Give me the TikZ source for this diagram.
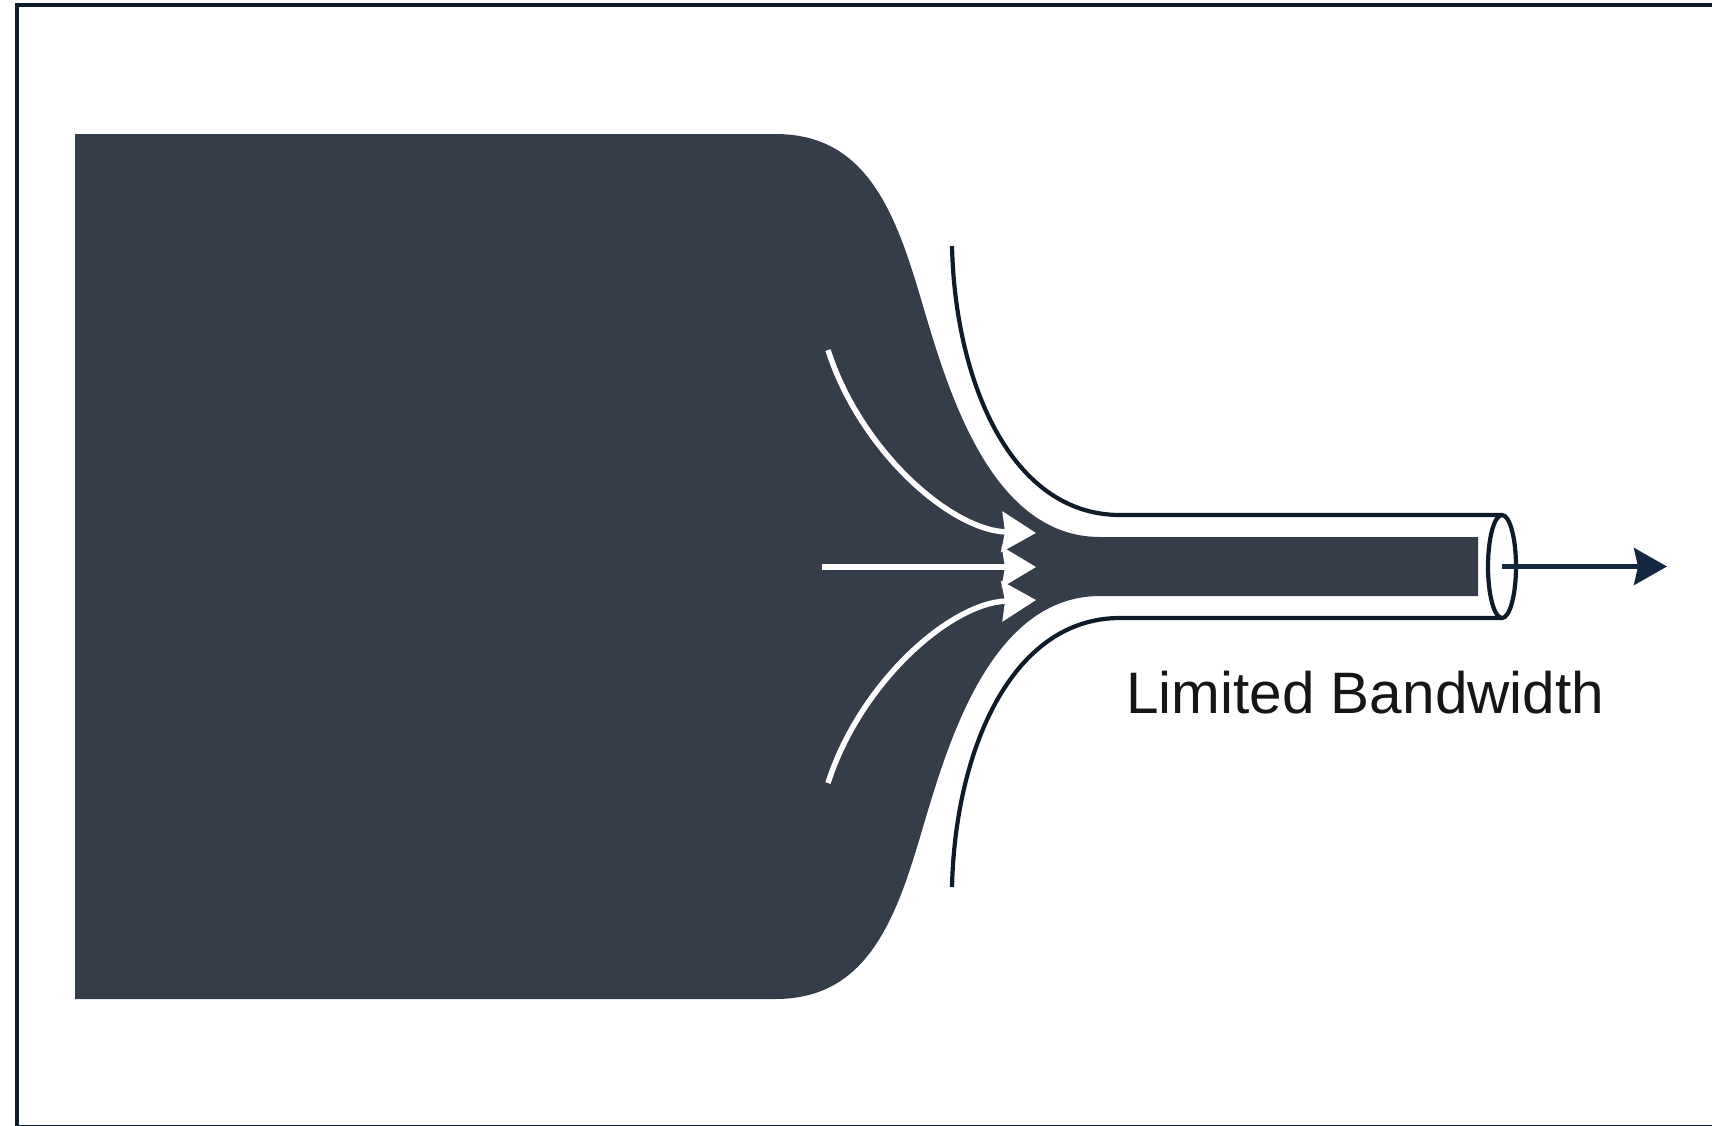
\documentclass[tikz,border=0pt]{standalone}
\usepackage{fontspec}
\newfontfamily\labelfont{Liberation Sans}
\usetikzlibrary{arrows.meta,shapes.geometric}
\definecolor{darkfill}{RGB}{52,61,73}
\definecolor{outline}{RGB}{16,27,42}
\definecolor{arrowblue}{RGB}{20,40,65}
\definecolor{textcol}{RGB}{22,22,22}
\tikzset{
  frameline/.style={draw=outline,line width=4.5pt},
  funnelfill/.style={fill=darkfill,draw=none},
  pipeline/.style={draw=outline,line width=4.2pt},
  flowarrow/.style={draw=white,line width=5.5pt,-{Stealth[length=34pt,width=40pt,inset=3pt]}},
  outarrow/.style={draw=arrowblue,line width=4.2pt,-{Stealth[length=33pt,width=37pt,inset=4pt]}},
  labeltext/.style={font=\labelfont\fontsize{58.5}{62}\selectfont,text=textcol,inner sep=0pt,anchor=base west}
}
\begin{document}
\begin{tikzpicture}[x=1pt,y=-1pt]
\useasboundingbox (0,0) rectangle (1712,1125);
\fill[white] (0,0) rectangle (1712,1125);
\begin{scope}
\clip (0,0) rectangle (1712,1125);
\draw[frameline] (17,5) rectangle (1740,1127);
\end{scope}
% funnel body
\fill[funnelfill] (75,134) -- (775,134)
  .. controls (850,134) and (885,185) .. (912,270)
  .. controls (937,345) and (975,537) .. (1100,537)
  -- (1478,537) -- (1478,596) -- (1100,596)
  .. controls (975,596) and (937,788) .. (912,863)
  .. controls (885,948) and (850,999) .. (775,999)
  -- (75,999) -- cycle;
% pipe outline
\coordinate (ut) at (952,246);
\coordinate (lt) at (952,887);
\coordinate (ue) at (1502,515);
\coordinate (le) at (1502,618);
\draw[pipeline] (ut) .. controls (955,380) and (1010,515) .. (1120,515) -- (ue);
\draw[pipeline] (lt) .. controls (955,753) and (1010,618) .. (1120,618) -- (le);
\node[draw=outline,line width=4.2pt,fill=white,ellipse,minimum width=28pt,minimum height=103pt,inner sep=0pt] (mouth) at (1502,566.5) {};
% flow arrows
\coordinate (a1s) at (828,350);
\coordinate (a1e) at (1036,533);
\coordinate (a2s) at (822,567);
\coordinate (a2e) at (1036,567);
\coordinate (a3s) at (828,783);
\coordinate (a3e) at (1036,600);
\draw[flowarrow] (a1s) .. controls (860,450) and (950,530) .. (a1e);
\draw[flowarrow] (a2s) -- (a2e);
\draw[flowarrow] (a3s) .. controls (860,683) and (950,603) .. (a3e);
% output arrow
\coordinate (outtip) at (1667,566.5);
\draw[outarrow] (mouth.center) -- (outtip);
\node[labeltext] (lbl) at (1126,713) {Limited Bandwidth};
\end{tikzpicture}
\end{document}
